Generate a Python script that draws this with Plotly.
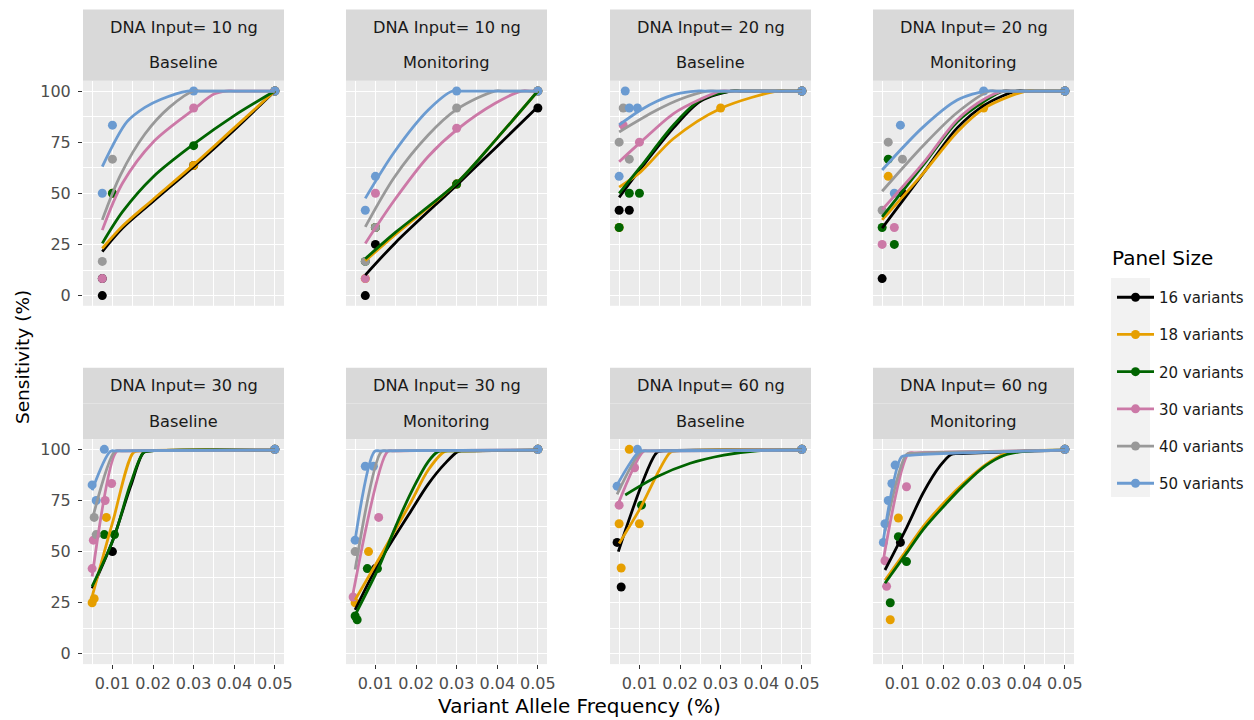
import plotly.graph_objects as go

# page geometry: the browser shows the figure with an 8px body margin
PAGE_OFF = 8
FIG_W, FIG_H = 1254 - PAGE_OFF, 720 - PAGE_OFF

SERIES = ["16 variants", "18 variants", "20 variants", "30 variants", "40 variants", "50 variants"]
COLORS = ["#000000", "#E69F00", "#006400", "#CC79A7", "#999999", "#6B9BD1"]
DNA_INPUTS = ["DNA Input= 10 ng", "DNA Input= 20 ng", "DNA Input= 30 ng", "DNA Input= 60 ng"]
STAGES = ["Baseline", "Monitoring"]
X_TICKS = [0.01, 0.02, 0.03, 0.04, 0.05]
X_TICK_TEXT = ["0.01", "0.02", "0.03", "0.04", "0.05"]
Y_TICKS = [0, 25, 50, 75, 100]
Y_TICK_TEXT = ["0", "25", "50", "75", "100"]
X_TITLE = "Variant Allele Frequency (%)"
Y_TITLE = "Sensitivity (%)"
LEGEND_TITLE = "Panel Size"

# ---------------- observed points (VAF, sensitivity) ----------------
PTS_10_BASELINE = {
    "16 variants": ([0.0075, 0.0075, 0.03, 0.05], [0, 8.3, 63.6, 100]),
    "18 variants": ([0.01, 0.03, 0.05], [50, 63.6, 100]),
    "20 variants": ([0.01, 0.03, 0.05], [50, 73.3, 100]),
    "30 variants": ([0.0075, 0.03, 0.05], [8.3, 91.7, 100]),
    "40 variants": ([0.0075, 0.01, 0.05], [16.7, 66.7, 100]),
    "50 variants": ([0.0075, 0.01, 0.03, 0.05], [50, 83.3, 100, 100]),
}
PTS_10_MONITORING = {
    "16 variants": ([0.0075, 0.01, 0.03, 0.05], [0, 25, 54.5, 91.7]),
    "18 variants": ([0.0075, 0.01, 0.03, 0.05], [8.3, 33.3, 54.5, 100]),
    "20 variants": ([0.0075, 0.01, 0.03, 0.05], [16.7, 33.3, 54.5, 100]),
    "30 variants": ([0.0075, 0.01, 0.03, 0.05], [8.3, 50, 81.8, 100]),
    "40 variants": ([0.0075, 0.01, 0.03, 0.05], [16.7, 33.3, 91.7, 100]),
    "50 variants": ([0.0075, 0.01, 0.03, 0.05], [41.7, 58.3, 100, 100]),
}
PTS_20_BASELINE = {
    "16 variants": ([0.005, 0.0075, 0.05], [41.7, 41.7, 100]),
    "18 variants": ([0.005, 0.03, 0.05], [33.3, 91.7, 100]),
    "20 variants": ([0.005, 0.0075, 0.01, 0.05], [33.3, 50, 50, 100]),
    "30 variants": ([0.006, 0.01, 0.05], [83.3, 75, 100]),
    "40 variants": ([0.006, 0.005, 0.0075, 0.05], [91.7, 75, 66.7, 100]),
    "50 variants": ([0.0065, 0.0075, 0.0095, 0.005, 0.05], [100, 91.7, 91.7, 58.3, 100]),
}
PTS_20_MONITORING = {
    "16 variants": ([0.005, 0.01, 0.05], [8.3, 50, 100]),
    "18 variants": ([0.0065, 0.03, 0.05], [58.3, 91.7, 100]),
    "20 variants": ([0.0065, 0.005, 0.008, 0.05], [66.7, 33.3, 25, 100]),
    "30 variants": ([0.008, 0.005, 0.05], [33.3, 25, 100]),
    "40 variants": ([0.0065, 0.01, 0.005, 0.05], [75, 66.7, 41.7, 100]),
    "50 variants": ([0.0095, 0.008, 0.03, 0.05], [83.3, 50, 100, 100]),
}
PTS_30_BASELINE = {
    "16 variants": ([0.01, 0.05], [50, 100]),
    "18 variants": ([0.0085, 0.005, 0.0055, 0.05], [66.7, 25, 27, 100]),
    "20 variants": ([0.0105, 0.008, 0.05], [58.3, 58.3, 100]),
    "30 variants": ([0.0053, 0.0082, 0.0098, 0.005, 0.05], [55.6, 75, 83.3, 41.7, 100]),
    "40 variants": ([0.0055, 0.006, 0.05], [66.7, 58.3, 100]),
    "50 variants": ([0.008, 0.005, 0.006, 0.05], [100, 82.6, 75, 100]),
}
PTS_30_MONITORING = {
    "16 variants": ([0.01, 0.05], [41.7, 100]),
    "18 variants": ([0.0083, 0.005, 0.05], [50, 25, 100]),
    "20 variants": ([0.008, 0.0105, 0.005, 0.0055, 0.05], [41.7, 41.7, 18.5, 16.7, 100]),
    "30 variants": ([0.0108, 0.0045, 0.05], [66.7, 27.8, 100]),
    "40 variants": ([0.005, 0.05], [50, 100]),
    "50 variants": ([0.0075, 0.0095, 0.005, 0.05], [91.7, 91.7, 55.6, 100]),
}
PTS_60_BASELINE = {
    "16 variants": ([0.0045, 0.0055, 0.05], [54.5, 32.7, 100]),
    "18 variants": ([0.0075, 0.005, 0.01, 0.0055, 0.05], [100, 63.6, 63.6, 42, 100]),
    "20 variants": ([0.0105, 0.05], [72.7, 100]),
    "30 variants": ([0.005, 0.0088, 0.05], [72.7, 91, 100]),
    "40 variants": ([0.05], [100]),
    "50 variants": ([0.0095, 0.0045, 0.05], [100, 82, 100]),
}
PTS_60_MONITORING = {
    "16 variants": ([0.0095, 0.05], [54.5, 100]),
    "18 variants": ([0.009, 0.007, 0.05], [66.4, 16.7, 100]),
    "20 variants": ([0.009, 0.011, 0.007, 0.05], [57.3, 45.1, 25, 100]),
    "30 variants": ([0.011, 0.0057, 0.0061, 0.05], [81.7, 45.5, 33, 100]),
    "40 variants": ([0.05], [100]),
    "50 variants": ([0.0082, 0.0074, 0.0065, 0.0057, 0.0053, 0.05], [92.3, 83.3, 75, 63.6, 54.5, 100]),
}

# ---------------- fitted curves ----------------
FIT_10_BASELINE = {
    "16 variants": ([0.0075, 0.0125, 0.02, 0.03, 0.04, 0.05], [21.5, 33, 46, 63, 81, 100]),
    "18 variants": ([0.0075, 0.0125, 0.02, 0.03, 0.04, 0.05], [23, 34, 47, 64, 82, 100]),
    "20 variants": ([0.0075, 0.0125, 0.02, 0.03, 0.04, 0.05], [25.5, 41, 58, 74, 88, 100]),
    "30 variants": ([0.0075, 0.0125, 0.02, 0.03, 0.035, 0.038, 0.04, 0.05], [32, 55, 75, 91, 98.5, 100, 100, 100]),
    "40 variants": ([0.0075, 0.012, 0.018, 0.024, 0.03, 0.032, 0.05], [37, 59, 79, 92, 100, 100, 100]),
    "50 variants": ([0.0075, 0.0136, 0.018, 0.022, 0.0285, 0.0305, 0.05], [63, 85, 92, 96, 100, 100, 100]),
}
FIT_10_MONITORING = {
    "16 variants": ([0.0075, 0.015, 0.03, 0.04, 0.05], [10, 26, 54, 73, 92.3]),
    "18 variants": ([0.0075, 0.015, 0.03, 0.04, 0.05], [17, 30, 55, 77, 100]),
    "20 variants": ([0.0075, 0.015, 0.03, 0.04, 0.05], [18, 31, 55, 77, 100]),
    "30 variants": ([0.0075, 0.0147, 0.023, 0.03, 0.0395, 0.046, 0.048, 0.05], [25.5, 46.7, 68, 81, 94, 100, 100, 100]),
    "40 variants": ([0.0075, 0.0147, 0.023, 0.03, 0.0394, 0.0415, 0.05], [33.6, 58, 78.5, 91, 100, 100, 100]),
    "50 variants": ([0.0075, 0.0147, 0.023, 0.029, 0.031, 0.05], [47.5, 70.3, 90.7, 100, 100, 100]),
}
FIT_20_BASELINE = {
    "16 variants": ([0.005, 0.0103, 0.0184, 0.025, 0.0325, 0.035, 0.05], [48, 62, 82, 95, 100, 100, 100]),
    "18 variants": ([0.005, 0.0103, 0.0184, 0.03, 0.044, 0.046, 0.05], [53, 60.5, 76.8, 91.5, 100, 100, 100]),
    "20 variants": ([0.005, 0.0103, 0.0184, 0.025, 0.0325, 0.035, 0.05], [50, 63, 83.4, 95.6, 100, 100, 100]),
    "30 variants": ([0.005, 0.0103, 0.0184, 0.025, 0.03, 0.032, 0.05], [65.4, 75, 89, 96, 100, 100, 100]),
    "40 variants": ([0.005, 0.0143, 0.02, 0.0267, 0.029, 0.05], [80, 90.7, 96, 100, 100, 100]),
    "50 variants": ([0.005, 0.0103, 0.0143, 0.019, 0.024, 0.026, 0.05], [83.4, 90.7, 95, 98.5, 100, 100, 100]),
}
FIT_20_MONITORING = {
    "16 variants": ([0.005, 0.0152, 0.0235, 0.0305, 0.0381, 0.0405, 0.05], [33, 60, 82, 93.5, 100, 100, 100]),
    "18 variants": ([0.005, 0.0152, 0.0235, 0.0305, 0.0405, 0.043, 0.05], [37, 60, 80, 92, 100, 100, 100]),
    "20 variants": ([0.005, 0.0152, 0.0235, 0.0305, 0.0348, 0.037, 0.05], [38.5, 64, 85, 95.5, 100, 100, 100]),
    "30 variants": ([0.005, 0.0152, 0.0235, 0.0305, 0.0348, 0.037, 0.05], [42, 65, 86, 96.5, 100, 100, 100]),
    "40 variants": ([0.005, 0.0152, 0.0235, 0.0315, 0.0335, 0.05], [51, 73.5, 89.5, 100, 100, 100]),
    "50 variants": ([0.005, 0.0152, 0.0235, 0.0305, 0.0325, 0.05], [61.4, 82.6, 95.6, 100, 100, 100]),
}
FIT_30_BASELINE = {
    "16 variants": ([0.005, 0.01, 0.0145, 0.0177, 0.0195, 0.05], [32, 55, 82, 98.5, 99.2, 99.6]),
    "18 variants": ([0.005, 0.01, 0.0152, 0.017, 0.05], [28, 64, 98.5, 99.2, 99.6]),
    "20 variants": ([0.005, 0.0103, 0.0145, 0.0177, 0.0195, 0.05], [33, 56.5, 83.4, 98.5, 99.2, 99.6]),
    "30 variants": ([0.005, 0.011, 0.0125, 0.05], [37.8, 99, 99.2, 99.6]),
    "40 variants": ([0.005, 0.0106, 0.012, 0.05], [65.5, 99, 99.2, 99.6]),
    "50 variants": ([0.005, 0.0095, 0.011, 0.05], [80, 99, 99.2, 99.6]),
}
FIT_30_MONITORING = {
    "16 variants": ([0.005, 0.011, 0.0188, 0.023, 0.0271, 0.0304, 0.032, 0.05], [21.5, 45, 70, 83, 93, 99, 99.2, 99.6]),
    "18 variants": ([0.005, 0.011, 0.0188, 0.023, 0.0271, 0.0288, 0.05], [26.4, 47, 74.4, 89.9, 99, 99.2, 99.6]),
    "20 variants": ([0.005, 0.011, 0.0147, 0.0188, 0.023, 0.0255, 0.027, 0.05], [19, 43, 61, 79, 94, 99, 99.2, 99.6]),
    "30 variants": ([0.0045, 0.013, 0.0145, 0.05], [29.6, 99, 99.2, 99.6]),
    "40 variants": ([0.005, 0.0115, 0.013, 0.05], [41.2, 99, 99.2, 99.6]),
    "50 variants": ([0.005, 0.0098, 0.0113, 0.05], [55.7, 99, 99.2, 99.6]),
}
FIT_60_BASELINE = {
    "16 variants": ([0.0048, 0.0143, 0.0158, 0.05], [50, 98.5, 99.2, 99.6]),
    "18 variants": ([0.005, 0.01, 0.0176, 0.0192, 0.05], [54, 70.5, 98.5, 99.2, 99.6]),
    "20 variants": ([0.0065, 0.0143, 0.0225, 0.0308, 0.039, 0.05], [77.7, 86.6, 93.2, 97.2, 99.3, 99.6]),
    "30 variants": ([0.0045, 0.011, 0.0125, 0.05], [72, 99, 99.2, 99.6]),
    "40 variants": ([0.0045, 0.0105, 0.012, 0.05], [78, 99, 99.2, 99.6]),
    "50 variants": ([0.0045, 0.01, 0.0115, 0.05], [82.6, 99, 99.2, 99.6]),
}
FIT_60_MONITORING = {
    "16 variants": ([0.0057, 0.0111, 0.0152, 0.0193, 0.022, 0.024, 0.05], [41, 62, 79, 92, 97.5, 97.9, 99.6]),
    "18 variants": ([0.0057, 0.0111, 0.0152, 0.021, 0.0251, 0.0305, 0.035, 0.04, 0.05], [36, 51, 62.5, 75.5, 83.5, 92.5, 97.5, 99.2, 99.6]),
    "20 variants": ([0.0057, 0.0111, 0.0152, 0.021, 0.0251, 0.0305, 0.035, 0.04, 0.05], [34.5, 49.5, 61, 74, 82.5, 92, 97, 99, 99.6]),
    "30 variants": ([0.0053, 0.0115, 0.013, 0.05], [45.9, 98, 98.3, 99.6]),
    "40 variants": ([0.0057, 0.011, 0.0125, 0.05], [60, 97.5, 98, 99.6]),
    "50 variants": ([0.0053, 0.0098, 0.0113, 0.05], [55.7, 96.4, 97, 99.6]),
}

PANELS = [
    (DNA_INPUTS[0], STAGES[0], PTS_10_BASELINE, FIT_10_BASELINE),
    (DNA_INPUTS[0], STAGES[1], PTS_10_MONITORING, FIT_10_MONITORING),
    (DNA_INPUTS[1], STAGES[0], PTS_20_BASELINE, FIT_20_BASELINE),
    (DNA_INPUTS[1], STAGES[1], PTS_20_MONITORING, FIT_20_MONITORING),
    (DNA_INPUTS[2], STAGES[0], PTS_30_BASELINE, FIT_30_BASELINE),
    (DNA_INPUTS[2], STAGES[1], PTS_30_MONITORING, FIT_30_MONITORING),
    (DNA_INPUTS[3], STAGES[0], PTS_60_BASELINE, FIT_60_BASELINE),
    (DNA_INPUTS[3], STAGES[1], PTS_60_MONITORING, FIT_60_MONITORING),
]

# ---------------- layout geometry (page pixels) ----------------
COL_LEFT = [83, 346, 610, 873]
PANEL_W = 201
ROW_TOP = [80.8, 439.1]
PANEL_H = 225
STRIP_H = 35.7
X_RANGE = [0.00275, 0.05225]
Y_RANGE = [-5, 105]
FONT = "DejaVu Sans, Liberation Sans, Arial, sans-serif"
LINE_W = 2.8
MARKER_SIZE = 9
TICK_SIZE = 16
STRIP_SIZE = 16.2
LEGEND_SIZE = 15
TITLE_SIZE = 20
Y_TITLE_SIZE = 18.5


def fx(p):
    return (p - PAGE_OFF) / FIG_W


def fy(p):
    return 1 - (p - PAGE_OFF) / FIG_H


fig = go.Figure()

# legend entries (line + point key, as in the original)
for s, c in zip(SERIES, COLORS):
    fig.add_trace(go.Scatter(
        x=[None], y=[None], mode="lines+markers", name=s, legendgroup=s,
        line=dict(color=c, width=LINE_W), marker=dict(color=c, size=MARKER_SIZE),
        xaxis="x", yaxis="y", showlegend=True, hoverinfo="skip"))

shapes = []
annotations = []
layout_axes = {}

for k, (dna, stage, pts, fit) in enumerate(PANELS):
    r, col = divmod(k, 4)
    sfx = "" if k == 0 else str(k + 1)
    xa, ya = "x" + sfx, "y" + sfx
    for s, c in zip(SERIES, COLORS):
        px_, py_ = pts[s]
        fig.add_trace(go.Scatter(x=px_, y=py_, mode="markers", legendgroup=s, showlegend=False,
                                 marker=dict(color=c, size=MARKER_SIZE), xaxis=xa, yaxis=ya))
    for s, c in zip(SERIES, COLORS):
        cx, cy = fit[s]
        fig.add_trace(go.Scatter(x=cx, y=cy, mode="lines", legendgroup=s, showlegend=False,
                                 line=dict(color=c, width=LINE_W, shape="spline", smoothing=0.9),
                                 xaxis=xa, yaxis=ya))

    left = COL_LEFT[col]
    top = ROW_TOP[r]
    bottom_row = (r == 1)
    first_col = (col == 0)
    layout_axes["xaxis" + sfx] = dict(
        domain=[fx(left), fx(left + PANEL_W)], anchor=ya, range=X_RANGE,
        tickmode="array", tickvals=X_TICKS, ticktext=X_TICK_TEXT,
        showticklabels=bottom_row, ticks="outside" if bottom_row else "",
        ticklen=4, tickwidth=1.1, tickcolor="#333333", ticklabelstandoff=1,
        tickfont=dict(size=TICK_SIZE, color="#4d4d4d", family=FONT),
        showgrid=True, gridcolor="white", gridwidth=1.2, zeroline=False, showline=False,
        minor=dict(tick0=0.005, dtick=0.01, showgrid=True, gridcolor="white", gridwidth=0.6, ticks=""),
        fixedrange=True)
    layout_axes["yaxis" + sfx] = dict(
        domain=[fy(top + PANEL_H), fy(top)], anchor=xa, range=Y_RANGE,
        tickmode="array", tickvals=Y_TICKS, ticktext=Y_TICK_TEXT,
        showticklabels=first_col, ticks="outside" if first_col else "",
        ticklen=4, tickwidth=1.1, tickcolor="#333333", ticklabelstandoff=4,
        tickfont=dict(size=TICK_SIZE, color="#4d4d4d", family=FONT),
        showgrid=True, gridcolor="white", gridwidth=1.2, zeroline=False, showline=False,
        minor=dict(tick0=12.5, dtick=25, showgrid=True, gridcolor="white", gridwidth=0.6, ticks=""),
        fixedrange=True)

    # facet strips (two stacked labels)
    for j, label in enumerate([dna, stage]):
        t0 = top - STRIP_H * (2 - j)
        shapes.append(dict(type="rect", xref="paper", yref="paper",
                           x0=fx(left), x1=fx(left + PANEL_W), y0=fy(t0 + STRIP_H), y1=fy(t0),
                           fillcolor="#d9d9d9", line=dict(width=0), layer="below"))
        annotations.append(dict(text=label, xref="paper", yref="paper",
                                x=fx(left + PANEL_W / 2), y=fy(t0 + STRIP_H / 2),
                                xanchor="center", yanchor="middle", showarrow=False,
                                font=dict(size=STRIP_SIZE, color="#1a1a1a", family=FONT)))

# legend key background
shapes.append(dict(type="rect", xref="paper", yref="paper", x0=fx(1111), x1=fx(1150),
                   y0=fy(497), y1=fy(278), fillcolor="#f2f2f2", line=dict(width=0), layer="below"))

annotations.append(dict(text=LEGEND_TITLE, xref="paper", yref="paper", x=fx(1110), y=fy(258),
                        xanchor="left", yanchor="middle", showarrow=False,
                        font=dict(size=TITLE_SIZE, color="#000000", family=FONT)))
annotations.append(dict(text=X_TITLE, xref="paper", yref="paper", x=fx(579), y=fy(706),
                        xanchor="center", yanchor="middle", showarrow=False,
                        font=dict(size=TITLE_SIZE, color="#000000", family=FONT)))
annotations.append(dict(text=Y_TITLE, xref="paper", yref="paper", x=fx(22), y=fy(357),
                        xanchor="center", yanchor="middle", showarrow=False, textangle=-90,
                        font=dict(size=Y_TITLE_SIZE, color="#000000", family=FONT)))

fig.update_layout(
    width=FIG_W, height=FIG_H, margin=dict(l=0, r=0, t=0, b=0, autoexpand=False),
    paper_bgcolor="white", plot_bgcolor="#ebebeb",
    font=dict(family=FONT, color="#1a1a1a"),
    shapes=shapes, annotations=annotations,
    showlegend=True,
    legend=dict(x=fx(1112), y=fy(281), xanchor="left", yanchor="top",
                font=dict(size=LEGEND_SIZE, color="#1a1a1a", family=FONT),
                tracegroupgap=14.7, bgcolor="rgba(0,0,0,0)", itemwidth=37),
    **layout_axes,
)

fig.write_html("out.html")
